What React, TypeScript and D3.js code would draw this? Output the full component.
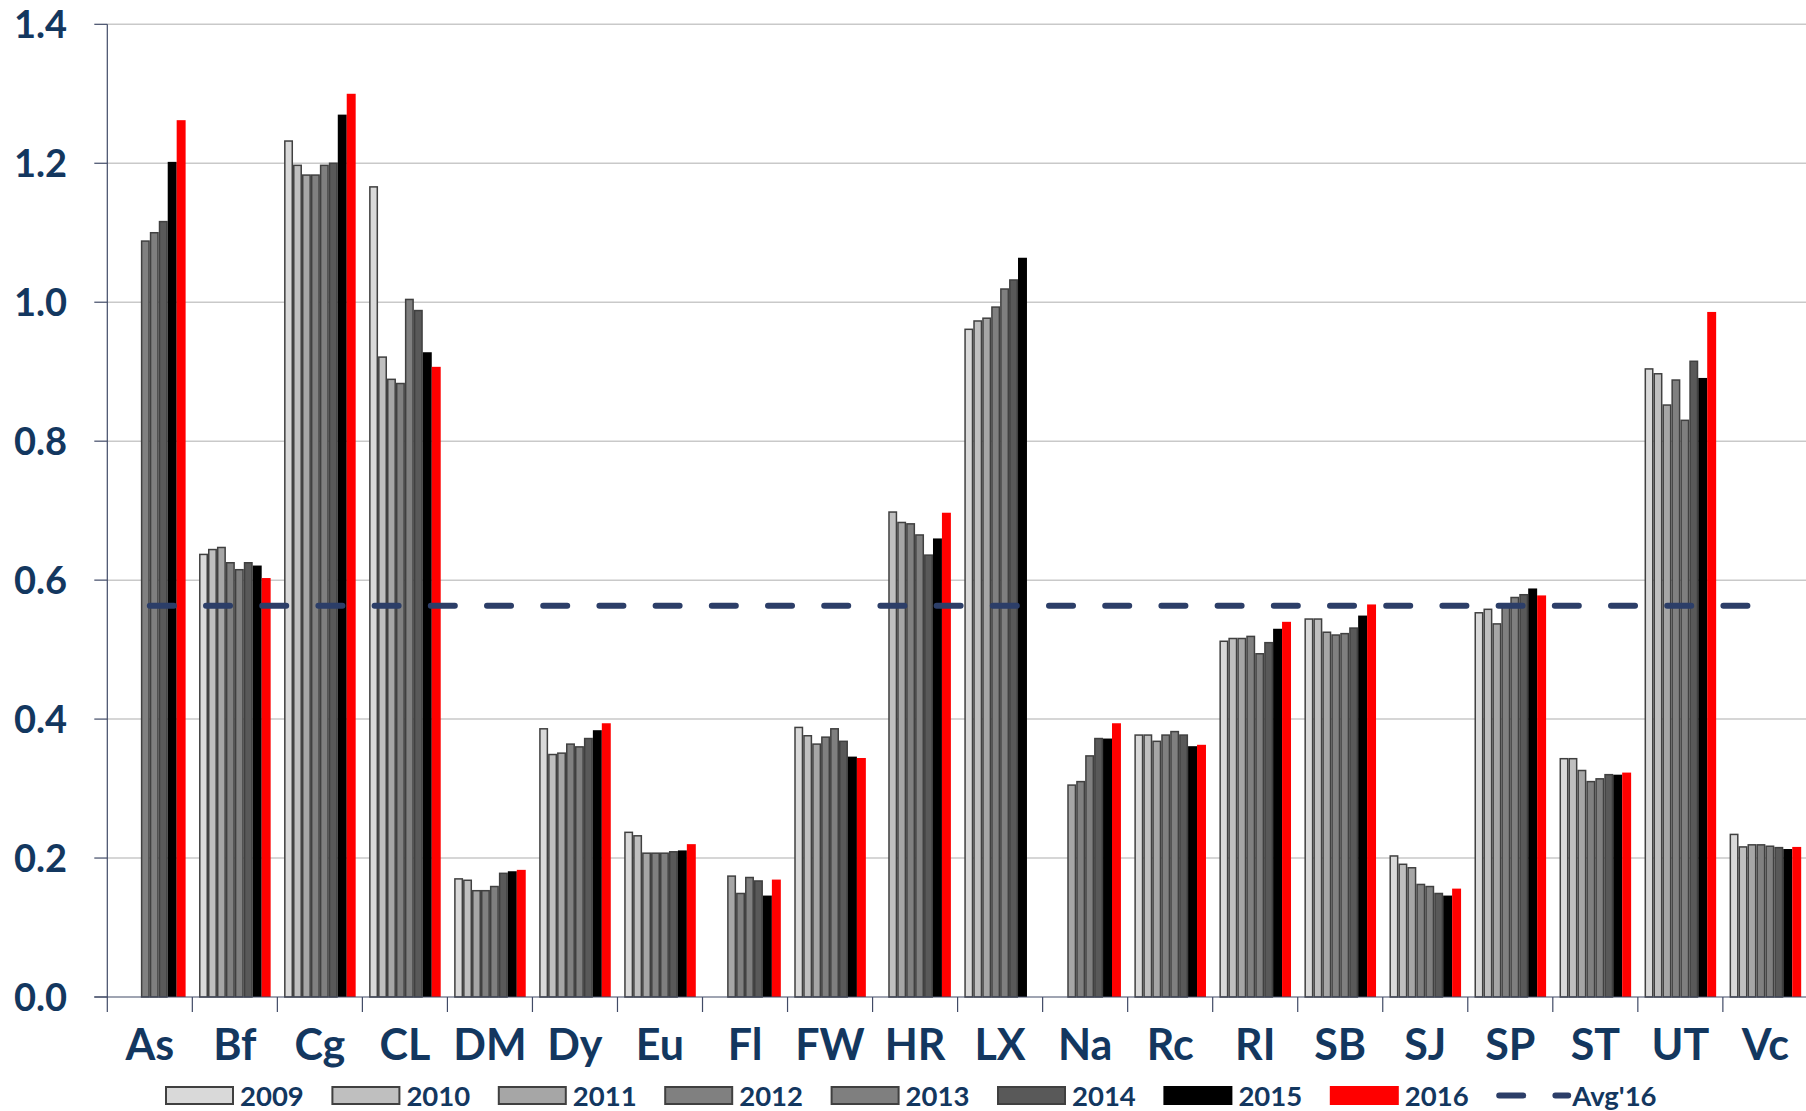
import React from "react";
import * as d3 from "d3";

// Sites along the category axis
const categories = ["As", "Bf", "Cg", "CL", "DM", "Dy", "Eu", "Fl", "FW", "HR", "LX", "Na", "Rc", "RI", "SB", "SJ", "SP", "ST", "UT", "Vc"];

// Yearly values per site (null = no data that year)
const v2009 = [null, 0.637, 1.232, 1.166, 0.170, 0.386, 0.237, null, 0.388, null, 0.961, null, 0.377, 0.512, 0.544, 0.203, 0.553, 0.343, 0.904, 0.234];
const v2010 = [null, 0.644, 1.197, 0.921, 0.168, 0.349, 0.232, null, 0.376, 0.698, 0.973, null, 0.377, 0.516, 0.544, 0.191, 0.558, 0.343, 0.897, 0.216];
const v2011 = [null, 0.647, 1.183, 0.889, 0.153, 0.351, 0.207, 0.174, 0.364, 0.683, 0.977, 0.305, 0.368, 0.516, 0.525, 0.186, 0.537, 0.326, 0.852, 0.219];
const v2012 = [1.088, 0.625, 1.183, 0.883, 0.153, 0.364, 0.207, 0.149, 0.374, 0.681, 0.993, 0.310, 0.377, 0.519, 0.521, 0.162, 0.562, 0.310, 0.888, 0.219];
const v2013 = [1.100, 0.615, 1.197, 1.004, 0.159, 0.360, 0.207, 0.172, 0.386, 0.665, 1.019, 0.347, 0.382, 0.494, 0.523, 0.159, 0.575, 0.314, 0.830, 0.217];
const v2014 = [1.116, 0.625, 1.200, 0.988, 0.178, 0.372, 0.209, 0.167, 0.368, 0.636, 1.032, 0.372, 0.377, 0.510, 0.531, 0.149, 0.579, 0.320, 0.915, 0.215];
const v2015 = [1.202, 0.621, 1.270, 0.928, 0.181, 0.384, 0.211, 0.146, 0.346, 0.660, 1.064, 0.372, 0.361, 0.530, 0.549, 0.146, 0.588, 0.320, 0.891, 0.213];
const v2016 = [1.262, 0.603, 1.300, 0.907, 0.183, 0.394, 0.220, 0.169, 0.344, 0.697, null, 0.394, 0.363, 0.540, 0.565, 0.156, 0.578, 0.323, 0.986, 0.216];

const years = ["2009", "2010", "2011", "2012", "2013", "2014", "2015", "2016"];
const seriesValues = [v2009, v2010, v2011, v2012, v2013, v2014, v2015, v2016];
const seriesFill = ["#d9d9d9", "#bfbfbf", "#a6a6a6", "#808080", "#7f7f7f", "#595959", "#000000", "#ff0000"];
const seriesOutlined = [true, true, true, true, true, true, false, false];

// 2016 average reference level
const avgLabel = "Avg'16";
const avg2016 = 0.563;

const yTicks = [0, 0.2, 0.4, 0.6, 0.8, 1.0, 1.2, 1.4];

const W = 1806;
const H = 1111;
const left = 107.3;
const right = 1807.9;
const top = 24.3;
const bottom = 997;

const textColor = "#13375f";
const axisColor = "#404a66";
const font = "Lato, 'Open Sans', sans-serif";

export default function App() {
  const x0 = d3.scaleBand<string>().domain(categories).range([left, right]).padding(0);
  const x1 = d3.scaleBand<string>().domain(years).range([0, x0.bandwidth()]).paddingInner(0).paddingOuter(0.75);
  const y = d3.scaleLinear().domain([0, 1.4]).range([bottom, top]);

  const firstCenter = x0(categories[0])! + x0.bandwidth() / 2;
  const lastCenter = x0(categories[categories.length - 1])! + x0.bandwidth() / 2;
  const avgLine = d3.line<number>()
    .x((d) => d)
    .y(() => y(avg2016))([firstCenter, lastCenter]);

  const dash = "24 32.2";

  const legendStart = 165;
  const legendStep = 166.4;
  const legendY = 1086;

  return (
    <svg width={W} height={H} style={{ position: "absolute", left: 0, top: 0, background: "#fff" }} fontFamily={font}>
      <rect x={0} y={0} width={W} height={H} fill="#fff" />
      {/* gridlines */}
      {yTicks.filter((t) => t > 0).map((t) => (
        <line key={t} x1={left} x2={W} y1={y(t)} y2={y(t)} stroke="#c9c9c9" strokeWidth={1.5} />
      ))}
      {/* y axis */}
      <line x1={left} x2={left} y1={top} y2={bottom} stroke={axisColor} strokeWidth={1.2} />
      {yTicks.map((t) => (
        <g key={t}>
          <line x1={left - 13} x2={left} y1={y(t)} y2={y(t)} stroke={axisColor} strokeWidth={1.2} />
          <text x={67} y={y(t)} dy="0.36em" textAnchor="end" fontSize={38} fontWeight={700} fill={textColor}>
            {t.toFixed(1)}
          </text>
        </g>
      ))}
      {/* bars */}
      {categories.map((c, ci) => (
        <g key={c} transform={`translate(${x0(c)},0)`}>
          {years.map((yr, si) => {
            const v = seriesValues[si][ci];
            if (v == null) return null;
            const bx = x1(yr)!;
            const bw = x1.bandwidth();
            const outlined = seriesOutlined[si];
            return (
              <rect
                key={yr}
                x={outlined ? bx + 0.75 : bx}
                y={y(v)}
                width={outlined ? bw - 1.5 : bw}
                height={bottom - y(v)}
                fill={seriesFill[si]}
                stroke={outlined ? "#404040" : "none"}
                strokeWidth={outlined ? 1.5 : 0}
              />
            );
          })}
        </g>
      ))}
      {/* x axis */}
      <line x1={left - 13} x2={W} y1={bottom} y2={bottom} stroke={axisColor} strokeWidth={1.2} />
      {categories.map((c) => (
        <line key={c} x1={x0(c)!} x2={x0(c)!} y1={bottom} y2={bottom + 15} stroke={axisColor} strokeWidth={1.2} />
      ))}
      {categories.map((c) => (
        <text key={c} x={x0(c)! + x0.bandwidth() / 2} y={1060} textAnchor="middle" fontSize={43} fontWeight={700} fill={textColor}>
          {c}
        </text>
      ))}
      {/* average line */}
      <path d={avgLine!} fill="none" stroke="#2c3e68" strokeWidth={6} strokeLinecap="round" strokeDasharray={dash} />
      {/* legend */}
      {years.map((yr, si) => {
        const lx = legendStart + si * legendStep;
        const outlined = seriesOutlined[si];
        return (
          <g key={yr}>
            <rect
              x={outlined ? lx + 1 : lx}
              y={outlined ? legendY + 1 : legendY}
              width={outlined ? 67 : 69}
              height={outlined ? 17 : 19}
              fill={seriesFill[si]}
              stroke={outlined ? "#404040" : "none"}
              strokeWidth={outlined ? 2 : 0}
            />
            <text x={lx + 75} y={1106} fontSize={27.5} fontWeight={700} fill={textColor}>
              {yr}
            </text>
          </g>
        );
      })}
      <line
        x1={legendStart + 8 * legendStep + 3}
        x2={legendStart + 8 * legendStep + 72}
        y1={1095.5}
        y2={1095.5}
        stroke="#2c3e68"
        strokeWidth={6}
        strokeLinecap="round"
        strokeDasharray={dash}
      />
      <text x={legendStart + 8 * legendStep + 76} y={1106} fontSize={27.5} fontWeight={700} fill={textColor}>
        {avgLabel}
      </text>
    </svg>
  );
}
